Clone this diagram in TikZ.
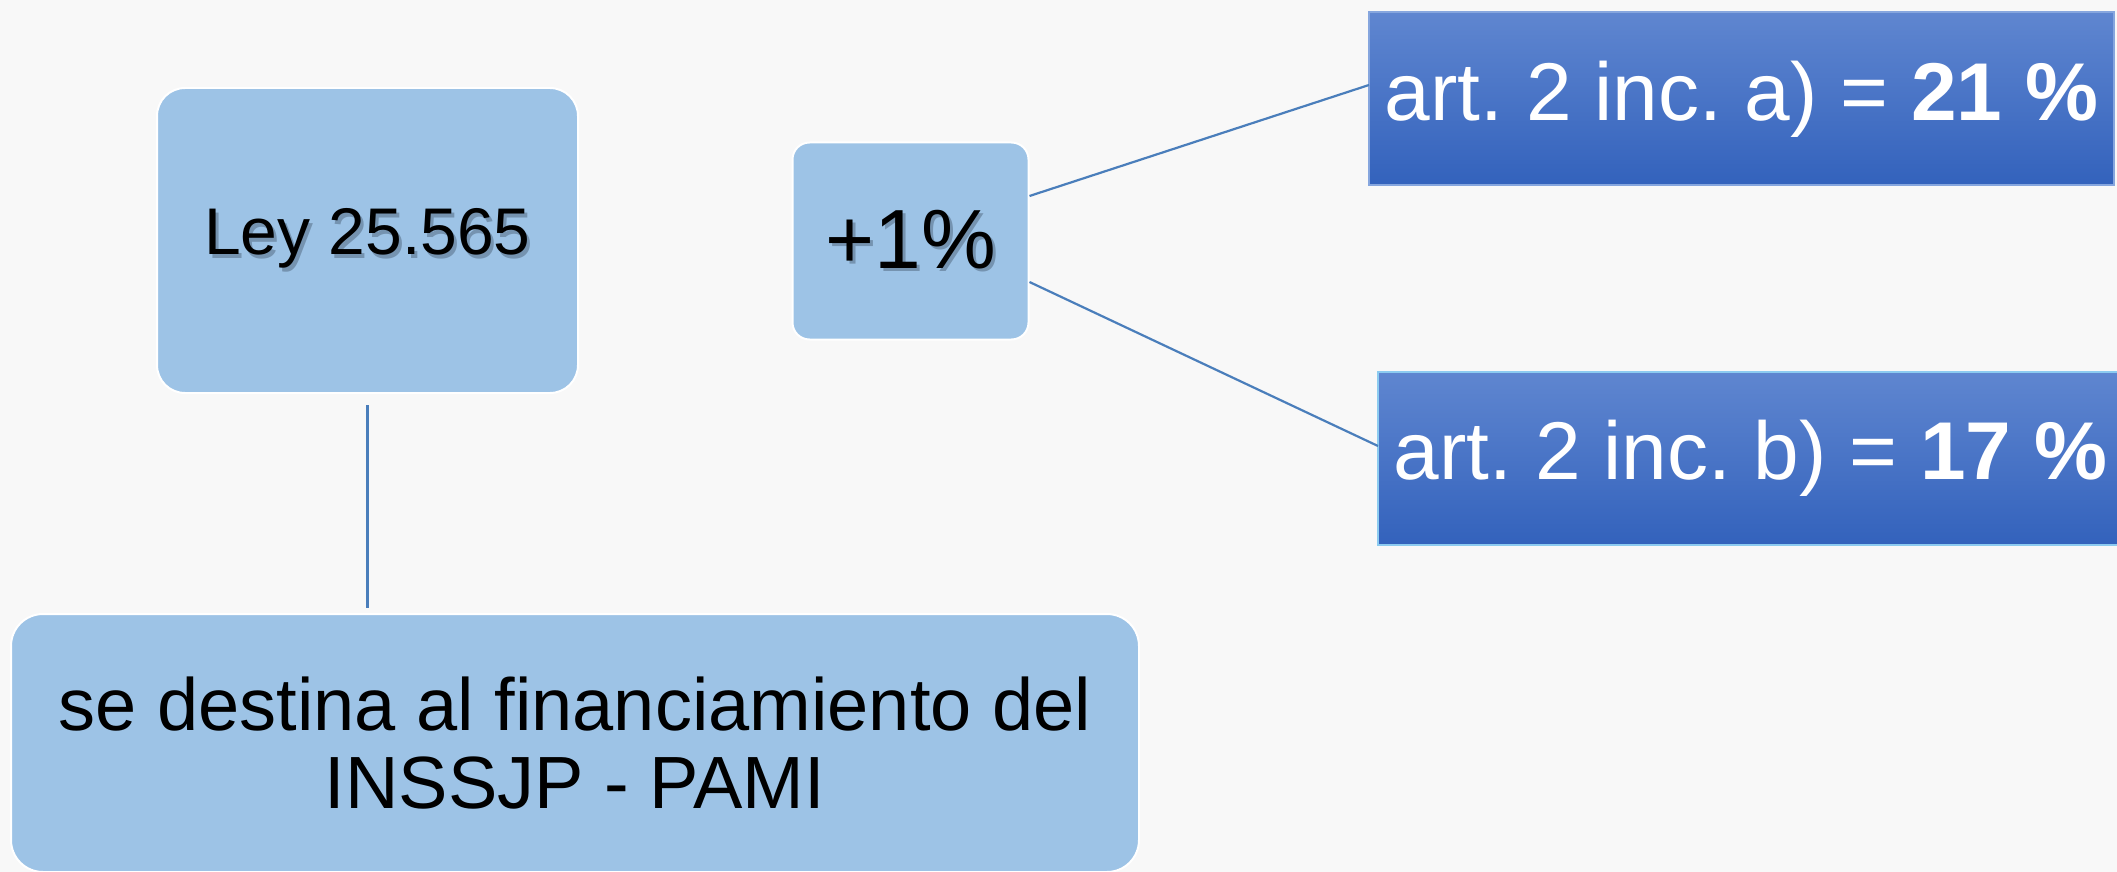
\documentclass[tikz,border=0pt]{standalone}
\usepackage{fontspec}
\setmainfont{Liberation Sans}
\usetikzlibrary{calc}
\frenchspacing
\definecolor{bgcol}{HTML}{F8F8F8}
\definecolor{lightbox}{HTML}{9DC3E6}
\definecolor{linecol}{HTML}{4A7EBB}
\definecolor{bluetop}{HTML}{5F86D0}
\definecolor{bluebot}{HTML}{3362BC}
\definecolor{edgea}{HTML}{86A6DE}
\definecolor{edgeb}{HTML}{8CCBF0}
\definecolor{shadcol}{HTML}{3A4A60}
\newcommand{\shadtext}[1]{\rlap{\raisebox{-1.8pt}{\hspace{1.5pt}\textcolor{shadcol!40!lightbox}{#1}}}#1}

\begin{document}
\begin{tikzpicture}[
  x=0.5pt, y=-0.5pt,
  every node/.style={inner sep=0pt, outer sep=0pt},
  softbox/.style={fill=lightbox, draw=white, line width=1pt, rounded corners=#1},
  softbox/.default=12pt,
  bluebox/.style={top color=bluetop, bottom color=bluebot, draw=#1, line width=1pt,
    text=white, minimum width=372.5pt, minimum height=86.5pt,
    font=\fontsize{41}{43}\selectfont},
  link/.style={draw=linecol, line width=1.1pt}
]
  \fill[bgcol] (0,0) rectangle (2117,872);
  \useasboundingbox (0,0) rectangle (2117,872);

  \node[softbox=14pt, minimum width=210.5pt, minimum height=152.5pt,
    font=\fontsize{33}{36}\selectfont] (ley) at (367.5,240.5) {\shadtext{Ley 25.565}};
  \node[softbox=8.5pt, minimum width=118pt, minimum height=98.5pt,
    font=\fontsize{42}{44}\selectfont] (plus) at (910.5,241) {\shadtext{+1\%}};
  \node[bluebox=edgea] (arta) at (1741.5,99) {art. 2 inc. a) = \textbf{21 \%}};
  \node[bluebox=edgeb] (artb) at (1750.5,458.5) {art. 2 inc. b) = \textbf{17 \%}};
  \node[softbox=16pt, minimum width=564pt, minimum height=129pt, align=center,
    font=\fontsize{37}{39}\selectfont] (pami) at (575,743)
    {se destina al financiamiento del\\INSSJP - PAMI};

  \draw[link, shorten <=6pt, shorten >=3pt] (ley.south) -- (ley.south |- pami.north);
  \draw[link] ($(plus.east)+(1,-45)$) -- ($(arta.west)+(0,-14)$);
  \draw[link] ($(plus.east)+(1,41)$) -- ($(artb.west)+(0,-12.5)$);
\end{tikzpicture}
\end{document}
